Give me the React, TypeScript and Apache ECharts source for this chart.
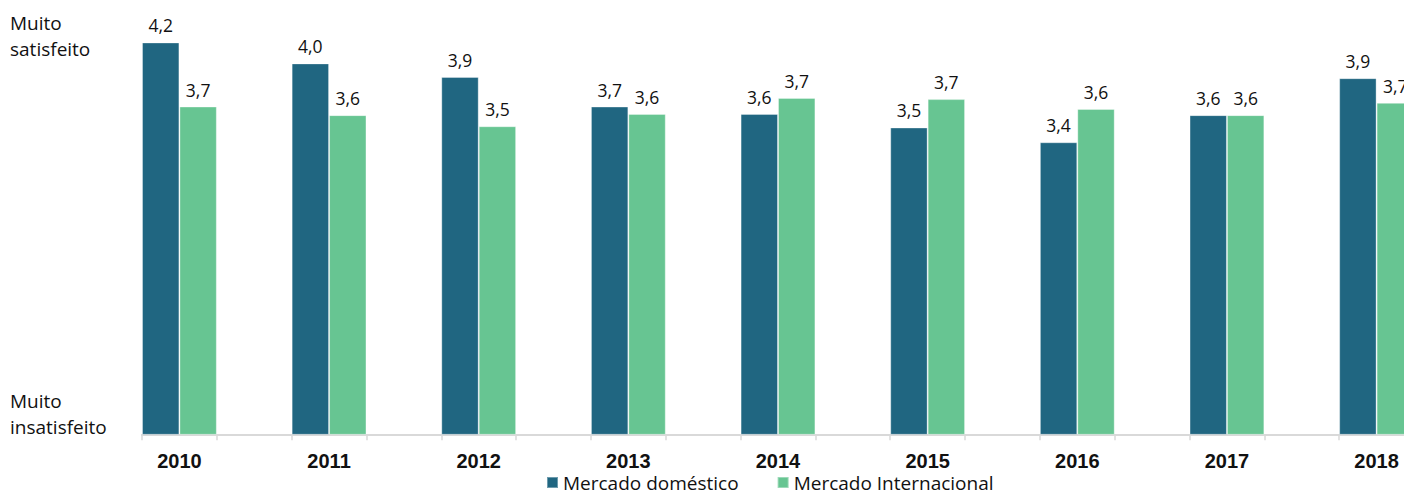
import React, { useEffect, useRef } from "react";
import * as echarts from "echarts";

const years = ["2010", "2011", "2012", "2013", "2014", "2015", "2016", "2017", "2018"];
const domestico = [4.18, 4.01, 3.9, 3.66, 3.6, 3.49, 3.37, 3.59, 3.89];
const internacional = [3.66, 3.59, 3.5, 3.6, 3.73, 3.72, 3.64, 3.59, 3.69];
const seriesNames = ["Mercado doméstico", "Mercado Internacional"];
const topLabel = "Muito\nsatisfeito";
const bottomLabel = "Muito\ninsatisfeito";

const DARK = "#206681";
const GREEN = "#67c592";

export default function App() {
  const ref = useRef<HTMLDivElement>(null);
  useEffect(() => {
    if (!ref.current) return;
    const chart = echarts.init(ref.current, undefined, { renderer: "svg" });
    const cats: string[] = [];
    const d1: (number | null)[] = [];
    const d2: (number | null)[] = [];
    years.forEach((y, i) => {
      cats.push(y);
      d1.push(domestico[i]);
      d2.push(internacional[i]);
      if (i < years.length - 1) {
        cats.push("");
        d1.push(null);
        d2.push(null);
      }
    });
    const fmt = (p: any) => (p.value == null ? "" : Number(p.value).toFixed(1).replace(".", ","));
    const label = {
      show: true,
      position: "top" as const,
      distance: 8,
      formatter: fmt,
      color: "#111",
      fontFamily: "Open Sans",
      fontSize: 17.5,
    };
    chart.setOption({
      animation: false,
      grid: { left: 142, width: 1272, top: 3, bottom: 61.7, containLabel: false },
      legend: {
        left: 546,
        top: 473,
        icon: "rect",
        itemWidth: 11,
        itemHeight: 11,
        itemGap: 38,
        padding: 0,
        textStyle: { fontFamily: "Open Sans", fontSize: 19, lineHeight: 19, color: "#111" },
        data: seriesNames,
      },
      xAxis: {
        type: "category",
        data: cats,
        axisLine: { show: true, lineStyle: { color: "#d9d9d9", width: 2 } },
        axisTick: { show: true, interval: 0, length: 6, lineStyle: { color: "#d9d9d9", width: 1.5 } },
        axisLabel: {
          interval: 0,
          margin: 17,
          color: "#111",
          fontWeight: "bold",
          fontFamily: "Liberation Sans",
          fontSize: 20,
        },
      },
      yAxis: { type: "value", min: 1, max: 4.5, show: false },
      graphic: [
        {
          type: "text",
          left: 10,
          top: 10,
          style: { text: topLabel, fontFamily: "Open Sans", fontSize: 19, lineHeight: 26, fill: "#111" },
        },
        {
          type: "text",
          left: 10,
          top: 388,
          style: { text: bottomLabel, fontFamily: "Open Sans", fontSize: 19, lineHeight: 26, fill: "#111" },
        },
      ],
      series: [
        {
          name: seriesNames[0],
          type: "bar",
          data: d1,
          barGap: "0%",
          barCategoryGap: "0%",
          itemStyle: { color: DARK, borderColor: "rgba(255,255,255,0.35)", borderWidth: 1 },
          label,
        },
        {
          name: seriesNames[1],
          type: "bar",
          data: d2,
          barGap: "0%",
          barCategoryGap: "0%",
          itemStyle: { color: GREEN, borderColor: "rgba(255,255,255,0.35)", borderWidth: 1 },
          label,
        },
      ],
    });
    return () => chart.dispose();
  }, []);
  return (
    <div style={{ width: 1404, height: 496, position: "absolute", left: 0, top: 0, overflow: "hidden" }}>
      <div ref={ref} style={{ width: 1424, height: 496 }} />
    </div>
  );
}
